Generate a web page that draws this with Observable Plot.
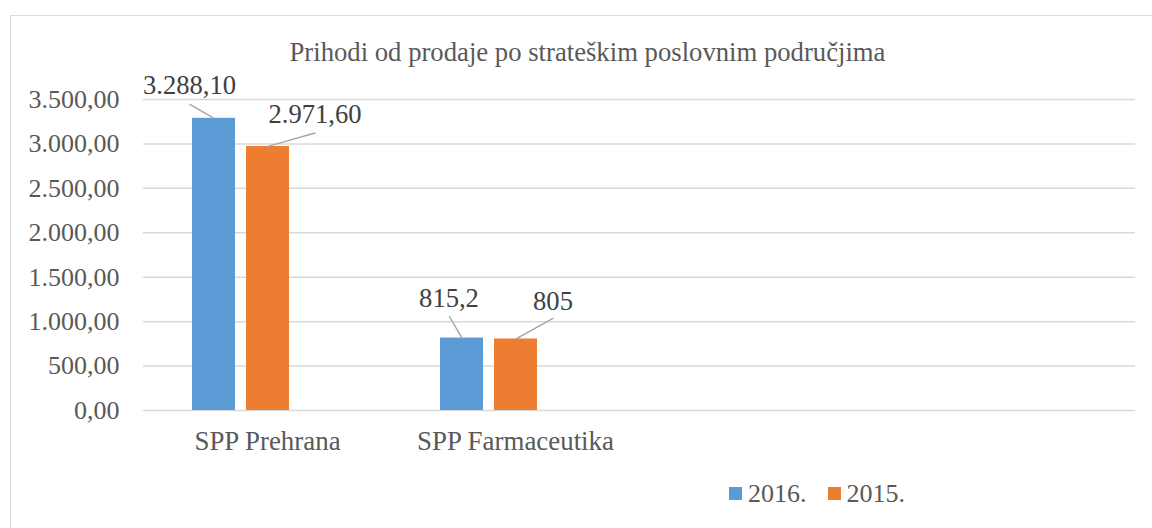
<!DOCTYPE html>
<html><head><meta charset="utf-8">
<script src="https://cdn.jsdelivr.net/npm/d3@7"></script>
<script src="https://cdn.jsdelivr.net/npm/@observablehq/plot@0.6"></script>
<style>
html,body{margin:0;padding:0;background:#fff;width:1152px;height:528px;overflow:hidden;}
body{position:relative;font-family:"Liberation Serif","Times New Roman",serif;}
#frame{position:absolute;left:10px;top:15px;width:1200px;height:600px;border-left:1px solid #d9d9d9;border-top:1px solid #d9d9d9;}
#title{position:absolute;left:0;top:37px;width:1175px;text-align:center;font-size:26.7px;color:#595959;line-height:normal;white-space:nowrap;}
#chart{position:absolute;left:0;top:72px;}
#legend{position:absolute;left:729px;top:479px;font-size:26px;line-height:30px;color:#595959;white-space:nowrap;}
.sw{display:inline-block;width:13px;height:13px;vertical-align:2px;margin-right:6px;}
.item2{margin-left:21px;}
</style></head><body>
<div id="frame"></div>
<div id="title">Prihodi od prodaje po strateškim poslovnim područjima</div>
<div id="chart"></div>
<div id="legend"></div>
<script>
// ---- data ----
const categories = ["SPP Prehrana", "SPP Farmaceutika", "", ""];
const series = ["2016.", "2015.", ""];          // third series is empty in the source chart
const values2016 = [3288.1, 815.2];
const values2015 = [2971.6, 805];
const labels2016 = ["3.288,10", "815,2"];
const labels2015 = ["2.971,60", "805"];
const yTicks = [0, 500, 1000, 1500, 2000, 2500, 3000, 3500];

// ---- styles / layout ----
const colors = ["#5B9BD5", "#ED7D31"];
// per-label callout offsets (px): text centre (tx,ty) and leader end (lx,ly) relative to bar top centre
const layout2016 = [{tx: -24.5, ty: -32.5, lx: -24, ly: -14}, {tx: -13, ty: -39.5, lx: -12.5, ly: -21.5}];
const layout2015 = [{tx: 47, ty: -32, lx: 47, ly: -13.5}, {tx: 37, ty: -37.5, lx: 37, ly: -20.5}];

const rows = [];
values2016.forEach((v, i) => rows.push({ci: i, year: series[0], value: v, label: labels2016[i], lay: layout2016[i]}));
values2015.forEach((v, i) => rows.push({ci: i, year: series[1], value: v, label: labels2015[i], lay: layout2015[i]}));

const gridData = [];
categories.forEach((c, ci) => yTicks.forEach(v => gridData.push({ci, v})));

const fmt = d3.formatLocale({decimal: ",", thousands: ".", grouping: [3], currency: ["", ""]}).format(",.2f");

const line = {draw(context, l) { context.moveTo(0, 0); context.lineTo(0, -l); }};

const calloutMarks = [];
rows.forEach(d => {
  const {tx, ty, lx, ly} = d.lay;
  calloutMarks.push(Plot.vector([d], {
    x: "year", y: "value", fx: "ci", anchor: "start",
    length: Math.hypot(lx, ly), rotate: Math.atan2(lx, -ly) * 180 / Math.PI,
    shape: line, stroke: "#a6a6a6", strokeWidth: 1.4
  }));
  calloutMarks.push(Plot.text([d], {
    x: "year", y: "value", fx: "ci", text: "label", dx: tx, dy: ty,
    fill: "#404040", fontSize: 26.6
  }));
});

const chart = Plot.plot({
  width: 1152, height: 400,
  marginTop: 27, marginBottom: 62, marginLeft: 143, marginRight: 17,
  style: {fontFamily: "'Liberation Serif', 'Times New Roman', serif", fontSize: "26px", color: "#595959", background: "transparent", overflow: "visible"},
  fx: {domain: d3.range(categories.length), padding: 0, axis: "bottom", tickSize: 0, tickPadding: 20, tickFormat: i => categories[i], label: null},
  x: {domain: series, paddingInner: 0.21, paddingOuter: 0.86, axis: null},
  y: {domain: [0, 3500], ticks: 7, tickFormat: fmt, tickSize: 0, tickPadding: 24, label: null},
  color: {domain: series.slice(0, 2), range: colors},
  marks: [
    Plot.ruleY(gridData, {y: "v", fx: "ci", stroke: "#d9d9d9", strokeWidth: 1.5}),
    Plot.barY(rows, {x: "year", y: "value", fx: "ci", fill: "year"}),
    ...calloutMarks
  ]
});
chart.querySelectorAll("g[aria-label='fx-axis tick label'] text, g[aria-label='fx-axis tick label']").forEach(e => e.setAttribute("font-size", "26.9"));
document.getElementById("chart").appendChild(chart);

const legend = document.getElementById("legend");
series.slice(0, 2).forEach((s, i) => {
  const span = document.createElement("span");
  if (i > 0) span.className = "item2";
  const sw = document.createElement("span");
  sw.className = "sw";
  sw.style.background = colors[i];
  span.appendChild(sw);
  span.appendChild(document.createTextNode(s));
  legend.appendChild(span);
});
</script>
</body></html>
